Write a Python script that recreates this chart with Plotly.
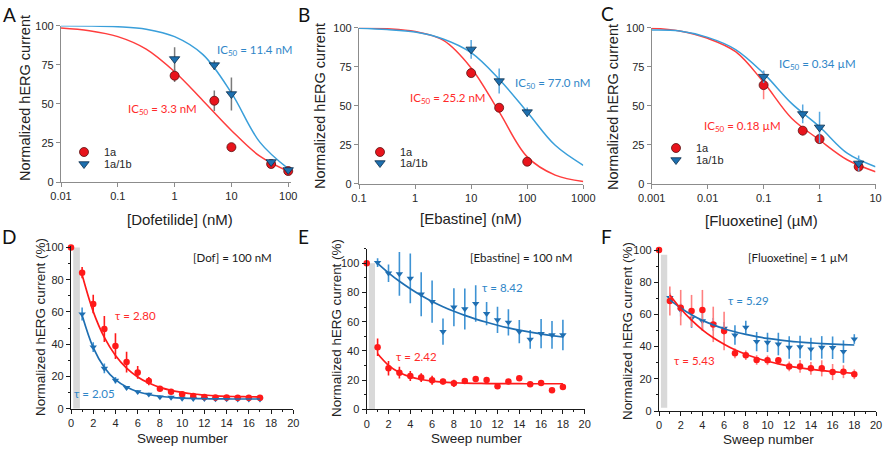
import plotly.graph_objects as go

W, H = 886, 450

# ---------------- data: panel A (Dofetilide) ----------------
dof_conc = [1, 5, 10, 50, 100]
dof_1a = [68.0, 52.0, 22.3, 11.5, 7.0]
dof_1a_err = [4, 6.5, 1, 1.5, 1]
dof_1a1b = [78.7, 74.8, 56.3, 12.8, 7.7]
dof_1a1b_err = [7.5, 3, 10.5, 1.5, 1]
dof_fit_x = [0.01, 0.0316, 0.1, 0.316, 1, 3.16, 10, 31.6, 100]
dof_fit_1a = [98.5, 96.8, 93.0, 85.0, 70.5, 52.0, 33.0, 16.5, 6.8]
dof_fit_1a1b = [99.9, 99.8, 99.3, 97.8, 93.0, 81.5, 57.0, 25.5, 8.5]
dof_ticks = [0.01, 0.1, 1, 10, 100]
dof_ticktext = ["0.01", "0.1", "1", "10", "100"]

# ---------------- data: panel B (Ebastine) ----------------
eba_conc = [10, 31.6, 100]
eba_1a = [70.9, 48.7, 14.1]
eba_1a_err = [2, 2, 2]
eba_1a1b = [86.1, 65.8, 45.9]
eba_1a1b_err = [6, 8, 3]
eba_fit_x = [0.1, 0.316, 1, 3.16, 10, 31.6, 100, 316, 1000]
eba_fit_1a = [99.8, 99.3, 97.5, 92.0, 74.2, 46.0, 17.2, 5.5, 1.4]
eba_fit_1a1b = [99.6, 98.8, 97.2, 92.8, 84.0, 67.0, 46.0, 24.6, 11.8]
eba_ticks = [0.1, 1, 10, 100, 1000]
eba_ticktext = ["0.1", "1", "10", "100", "1000"]

# ---------------- data: panel C (Fluoxetine) ----------------
flu_conc = [0.1, 0.5, 1, 5]
flu_1a = [63.2, 34.0, 28.6, 10.9]
flu_1a_err = [9, 3, 3, 2]
flu_1a1b = [68.6, 44.7, 36.1, 13.0]
flu_1a1b_err = [4, 6, 10, 5]
flu_fit_x = [0.001, 0.00316, 0.01, 0.0316, 0.1, 0.316, 1, 3.16, 10]
flu_fit_1a = [99.6, 97.9, 93.2, 84.6, 65.0, 42.0, 28.0, 15.2, 7.7]
flu_fit_1a1b = [98.5, 97.9, 93.8, 86.0, 70.7, 51.5, 36.5, 19.4, 10.9]
flu_ticks = [0.001, 0.01, 0.1, 1, 10]
flu_ticktext = ["0.001", "0.01", "0.1", "1", "10"]

# ---------------- data: panel D (Dof 100 nM, sweeps) ----------------
d_sweep_1a = list(range(0, 18))
d_1a = [100, 84.3, 64.9, 49.4, 38.8, 28.9, 22.5, 17.1, 12.4, 10.5, 8.9, 7.9, 7.2, 7.0, 7.0, 6.8, 6.8, 6.8]
d_1a_err = [0, 3.5, 5.7, 8, 8, 6.4, 4, 2.6, 1.5, 1, 1, 1, 0.8, 0.8, 0.8, 0.8, 0.8, 0.8]
d_sweep_1a1b = list(range(1, 18))
d_1a1b = [58.7, 38.2, 25.0, 17.6, 13.0, 10.5, 8.9, 7.2, 7.0, 6.4, 6.2, 6.2, 6.0, 6.0, 5.9, 5.8, 5.8]
d_1a1b_err = [4, 3, 3, 2, 1, 1, 1, 1, 1, 1, 1, 1, 1, 1, 1, 1, 1]
d_fit_x = list(range(1, 18))
d_fit_1a = [83, 60.2, 44.2, 33.0, 25.2, 19.7, 15.9, 13.2, 11.4, 10.1, 9.1, 8.5, 8.0, 7.7, 7.5, 7.4, 7.3]
d_fit_1a1b = [58, 37.9, 25.6, 18.0, 13.4, 10.5, 8.8, 7.7, 7.05, 6.6, 6.4, 6.2, 6.1, 6.05, 6.0, 6.0, 6.0]

# ---------------- data: panel E (Ebastine 100 nM, sweeps) ----------------
e_sweep_1a = list(range(0, 19))
e_1a = [100, 42.5, 28.1, 25.1, 22.8, 21.7, 19.9, 19.0, 17.8, 19.4, 20.8, 20.1, 15.8, 19.0, 21.2, 17.1, 18.0, 13.0, 15.3]
e_1a_err = [0, 6, 5, 4, 3.5, 3, 3, 2, 2.5, 1.5, 2, 2, 1.5, 1, 1.5, 1.5, 1, 0, 0]
e_sweep_1a1b = list(range(1, 19))
e_1a1b = [100.5, 93.2, 92.7, 89.7, 78.8, 73.7, 53.2, 69.9, 68.7, 72.4, 65.5, 61.2, 59.6, 53.2, 47.9, 51.8, 50.9, 50.9]
e_1a1b_err = [3, 6, 15, 17, 15, 14.5, 9, 13, 14, 12.5, 8, 9, 9, 8, 6.5, 10, 9.5, 10.5]
e_fit_x = list(range(1, 19))
e_fit_1a = [38, 30.1, 25.2, 22.2, 20.4, 19.3, 18.6, 18.2, 17.9, 17.75, 17.65, 17.6, 17.55, 17.52, 17.51, 17.5, 17.5, 17.5]
e_fit_1a1b = [100, 93.5, 87.7, 82.6, 78.0, 73.9, 70.3, 67.1, 64.3, 61.8, 59.6, 57.6, 55.8, 54.2, 52.8, 51.6, 50.5, 49.5]

# ---------------- data: panel F (Fluoxetine 1 uM, sweeps) ----------------
f_sweep_1a = list(range(0, 19))
f_1a = [100, 68.3, 64.2, 62.1, 62.7, 53.8, 49.7, 35.8, 34.6, 31.7, 31.5, 31.5, 27.7, 27.7, 26.5, 26.5, 24.2, 24.4, 22.8]
f_1a_err = [0, 9, 11, 10, 12.5, 11, 12, 3, 3, 3, 3, 2, 3, 4, 4, 5, 5, 4, 3]
f_sweep_1a1b = list(range(1, 19))
f_1a1b = [70.4, 62.7, 57.6, 55.9, 53.8, 51.3, 47.2, 52.0, 43.1, 42.6, 41.6, 39.5, 39.8, 38.5, 39.5, 39.3, 36.9, 44.7]
f_1a1b_err = [3, 4, 6, 6, 4, 4, 6, 4, 6, 6, 7, 7, 7, 7, 7, 7, 7, 3]
f_fit_x = list(range(1, 19))
f_fit_1a = [72, 63.5, 56.4, 50.4, 45.5, 41.5, 38.0, 35.2, 32.9, 30.9, 29.3, 27.9, 26.8, 25.8, 25.1, 24.4, 23.9, 23.4]
f_fit_1a1b = [69, 64.0, 59.8, 56.3, 53.5, 51.1, 49.2, 47.6, 46.2, 45.1, 44.2, 43.4, 42.8, 42.3, 41.9, 41.5, 41.2, 41.0]

# ---------------- styling ----------------
SANS = "Liberation Sans, Arial, sans-serif"
TICKFONT = dict(family=SANS, size=11, color="#262626")
CAL = "Lato, Open Sans, sans-serif"

RED_CURVE = "#FF3D3D"
BLUE_CURVE = "#3A9FDA"
RED_MK = "#E8141C"
BLUE_MK = "#1D6FAE"
RED_B = "#FF1A1A"
BLUE_B = "#1F6FB2"
BLUE_ERR = "#3E93D4"


def xdom(a, b):
    return [a / W, b / W]


def ydom(top, bottom):
    return [1 - bottom / H, 1 - top / H]


def px(x):
    return x / W


def py(y):
    return 1 - y / H


fig = go.Figure()

top_panels = [
    ("", ("legend", "legend2"), dof_fit_x, dof_fit_1a, dof_fit_1a1b, dof_conc, dof_1a, dof_1a_err,
     dof_1a1b, dof_1a1b_err, ("#7a7a7a", "#7a7a7a")),
    ("2", ("legend3", "legend4"), eba_fit_x, eba_fit_1a, eba_fit_1a1b, eba_conc, eba_1a, eba_1a_err,
     eba_1a1b, eba_1a1b_err, ("#FF7F7F", "#58A8E0")),
    ("3", ("legend5", "legend6"), flu_fit_x, flu_fit_1a, flu_fit_1a1b, flu_conc, flu_1a, flu_1a_err,
     flu_1a1b, flu_1a1b_err, ("#FF7F7F", "#58A8E0")),
]

for (s, lg, fx, fr, fb, cx, ry, re, by, be, ec) in top_panels:
    xa, ya = "x" + s, "y" + s
    fig.add_trace(go.Scatter(x=fx, y=fr, mode="lines", line=dict(color=RED_CURVE, width=1.5, shape="spline"),
                             xaxis=xa, yaxis=ya, showlegend=False, hoverinfo="skip"))
    fig.add_trace(go.Scatter(x=fx, y=fb, mode="lines", line=dict(color=BLUE_CURVE, width=1.5, shape="spline"),
                             xaxis=xa, yaxis=ya, showlegend=False, hoverinfo="skip"))
    fig.add_trace(go.Scatter(x=cx, y=ry, mode="markers", name="1a", legend=lg[0],
                             marker=dict(symbol="circle", size=9, color=RED_MK, line=dict(color="#5a1010", width=0.8)),
                             error_y=dict(type="data", array=re, color=ec[0], thickness=1.5, width=0),
                             xaxis=xa, yaxis=ya, cliponaxis=False))
    fig.add_trace(go.Scatter(x=cx, y=by, mode="markers", name="1a/1b", legend=lg[1],
                             marker=dict(symbol="triangle-down", size=9, color=BLUE_MK, line=dict(color="#0c2f4d", width=0.8)),
                             error_y=dict(type="data", array=be, color=ec[1], thickness=1.5, width=0),
                             xaxis=xa, yaxis=ya, cliponaxis=False))

bottom_panels = [
    ("4", d_fit_x, d_fit_1a, d_fit_1a1b, d_sweep_1a, d_1a, d_1a_err, d_sweep_1a1b, d_1a1b, d_1a1b_err, RED_B),
    ("5", e_fit_x, e_fit_1a, e_fit_1a1b, e_sweep_1a, e_1a, e_1a_err, e_sweep_1a1b, e_1a1b, e_1a1b_err, RED_B),
    ("6", f_fit_x, f_fit_1a, f_fit_1a1b, f_sweep_1a, f_1a, f_1a_err, f_sweep_1a1b, f_1a1b, f_1a1b_err, "#FF8080"),
]

for (s, fx, fr, fb, rx, ry, re, bx, by, be, rerr) in bottom_panels:
    xa, ya = "x" + s, "y" + s
    fig.add_trace(go.Scatter(x=bx, y=by, mode="markers",
                             marker=dict(symbol="triangle-down", size=6.5, color=BLUE_B),
                             error_y=dict(type="data", array=be, color=BLUE_ERR, thickness=1.6, width=0),
                             xaxis=xa, yaxis=ya, showlegend=False, cliponaxis=False))
    fig.add_trace(go.Scatter(x=rx, y=ry, mode="markers",
                             marker=dict(symbol="circle", size=6.5, color=RED_B),
                             error_y=dict(type="data", array=re, color=rerr, thickness=1.6, width=0),
                             xaxis=xa, yaxis=ya, showlegend=False, cliponaxis=False))
    fig.add_trace(go.Scatter(x=fx, y=fb, mode="lines", line=dict(color=BLUE_B, width=1.7, shape="spline"),
                             xaxis=xa, yaxis=ya, showlegend=False, hoverinfo="skip"))
    fig.add_trace(go.Scatter(x=fx, y=fr, mode="lines", line=dict(color=RED_B, width=1.7, shape="spline"),
                             xaxis=xa, yaxis=ya, showlegend=False, hoverinfo="skip"))


def top_x(rng, dom, anchor, tv, tt):
    return dict(type="log", range=rng, domain=dom, anchor=anchor, showline=True, linecolor="#8c8c8c",
                linewidth=1.2, ticks="outside", ticklen=4, tickcolor="#8c8c8c", tickwidth=1.2,
                tickvals=tv, ticktext=tt, showgrid=False, zeroline=False, tickfont=TICKFONT,
                automargin=False)


def top_y(dom, anchor):
    return dict(range=[0, 100], domain=dom, anchor=anchor, showline=True, linecolor="#8c8c8c",
                linewidth=1.2, ticks="outside", ticklen=4, tickcolor="#8c8c8c", tickwidth=1.2,
                tickvals=[0, 25, 50, 75, 100], showgrid=False, zeroline=False, tickfont=TICKFONT,
                automargin=False)


def bot_x(dom, anchor):
    return dict(range=[0, 20], domain=dom, anchor=anchor, showline=True, linecolor="#1a1a1a",
                linewidth=1.3, ticks="outside", ticklen=4, tickcolor="#1a1a1a", tick0=0, dtick=2,
                minor=dict(ticks="outside", ticklen=2, dtick=1, tickcolor="#1a1a1a"),
                showgrid=False, zeroline=False, tickfont=TICKFONT, automargin=False)


def bot_y(rng, dom, anchor):
    return dict(range=rng, domain=dom, anchor=anchor, showline=True, linecolor="#1a1a1a",
                linewidth=1.3, ticks="outside", ticklen=4, tickcolor="#1a1a1a", tick0=0, dtick=20,
                minor=dict(ticks="outside", ticklen=2, dtick=10, tickcolor="#1a1a1a"),
                showgrid=False, zeroline=False, tickfont=TICKFONT, automargin=False)


layout = dict(
    width=W, height=H, margin=dict(l=0, r=0, t=0, b=0, pad=0), autosize=False,
    paper_bgcolor="white", plot_bgcolor="white",
    xaxis=top_x([-2, 2.04], xdom(61, 290.5), "y", dof_ticks, dof_ticktext),
    yaxis=top_y(ydom(25.7, 182), "x"),
    xaxis2=top_x([-1, 3], xdom(359, 583.3), "y2", eba_ticks, eba_ticktext),
    yaxis2=top_y(ydom(27.7, 183.7), "x2"),
    xaxis3=top_x([-3, 1], xdom(651.7, 875.5), "y3", flu_ticks, flu_ticktext),
    yaxis3=top_y(ydom(27.7, 183.7), "x3"),
    xaxis4=bot_x(xdom(71, 293.3), "y4"),
    yaxis4=bot_y([0, 101], ydom(408.7 - 101 * 1.613, 408.7), "x4"),
    xaxis5=bot_x(xdom(366.7, 584.7), "y5"),
    yaxis5=bot_y([0, 110], ydom(409.3 - 110 * 1.46, 409.3), "x5"),
    xaxis6=bot_x(xdom(659, 876), "y6"),
    yaxis6=bot_y([0, 101], ydom(411 - 101 * 1.61, 411), "x6"),
)

leg_common = dict(bgcolor="rgba(0,0,0,0)", font=dict(family=SANS, size=11, color="#262626"),
                  xanchor="left", yanchor="top", tracegroupgap=0, itemwidth=30)
# (legend id, marker centre x, item centre y) in reference pixels
legend_spots = [("legend", 85, 152), ("legend2", 85, 164),
                ("legend3", 381, 152), ("legend4", 381, 163),
                ("legend5", 677, 148), ("legend6", 677, 160)]
for lid, lx, ly in legend_spots:
    layout[lid] = dict(x=px(lx - 21), y=py(ly - 14.5), **leg_common)

fig.update_layout(**layout)

# grey shading marking the drug application gap
shade = [("x4", "y4", 0.2, 0.8, 0, 100), ("x5", "y5", 0.2, 0.76, 0, 100), ("x6", "y6", 0.18, 0.76, 2, 97)]
for xr, yr, a, b, c, d in shade:
    fig.add_shape(type="rect", xref=xr, yref=yr, x0=a, x1=b, y0=c, y1=d,
                  fillcolor="#d9d9d9", line=dict(width=0), layer="below")

ann = []


def text(x, y, t, size, color, family=CAL, angle=0):
    ann.append(dict(x=px(x), y=py(y), xref="paper", yref="paper", text=t, showarrow=False,
                    xanchor="center", yanchor="middle", textangle=angle,
                    font=dict(family=family, size=size, color=color)))


# panel letters
for (lx, ly, lt) in [(9, 15, "A"), (304, 15, "B"), (607, 14, "C"), (9, 236, "D"), (303, 236, "E"), (606, 236, "F")]:
    text(lx, ly, lt, 19, "#111111")

# axis titles
text(180, 219, "[Dofetilide] (nM)", 15, "#222222", SANS)
text(471, 218, "[Ebastine] (nM)", 15, "#222222", SANS)
text(761, 220, "[Fluoxetine] (\u00b5M)", 15, "#222222", SANS)
text(25, 98, "Normalized hERG current", 14.5, "#222222", SANS, -90)
text(320, 106, "Normalized hERG current", 14.5, "#222222", SANS, -90)
text(613, 107, "Normalized hERG current", 14.5, "#222222", SANS, -90)
text(182, 438, "Sweep number", 13.5, "#222222", SANS)
text(476, 438, "Sweep number", 13.5, "#222222", SANS)
text(768, 439, "Sweep number", 13.5, "#222222", SANS)
text(40, 327, "Normalized hERG current (%)", 13.4, "#222222", SANS, -90)
text(336, 328, "Normalized hERG current (%)", 13.4, "#222222", SANS, -90)
text(627, 331, "Normalized hERG current (%)", 13.4, "#222222", SANS, -90)

# IC50 labels
text(254, 50, "IC<sub>50</sub> = 11.4 nM", 11.5, "#2F86C8")
text(162, 109, "IC<sub>50</sub> = 3.3 nM", 11.5, "#FF2A2A")
text(552, 84, "IC<sub>50</sub> = 77.0 nM", 11.5, "#2F86C8")
text(447, 99, "IC<sub>50</sub> = 25.2 nM", 11.5, "#FF2A2A")
text(817, 64, "IC<sub>50</sub> = 0.34 \u00b5M", 11.5, "#2F86C8")
text(742, 126, "IC<sub>50</sub> = 0.18 \u00b5M", 11.5, "#FF2A2A")

# condition and tau labels
text(232, 257, "[Dof] = 100 nM", 11.5, "#1a1a1a")
text(135, 315, "\u03c4 = 2.80", 11.5, "#FF2A2A")
text(94, 393, "\u03c4 = 2.05", 11.5, "#2F86C8")
text(521, 257, "[Ebastine] = 100 nM", 11.5, "#1a1a1a")
text(502, 287, "\u03c4 = 8.42", 11.5, "#2F86C8")
text(416, 356, "\u03c4 = 2.42", 11.5, "#FF2A2A")
text(798, 257, "[Fluoxetine] = 1 \u00b5M", 11.5, "#1a1a1a")
text(748, 300, "\u03c4 = 5.29", 11.5, "#2F86C8")
text(694, 360, "\u03c4 = 5.43", 11.5, "#FF2A2A")

fig.update_layout(annotations=ann)

# the page body has an 8px default margin; remove it so the 886x450 figure fills the window
fig.write_html("out.html", config={"displayModeBar": False},
               post_script="document.body.style.margin='0';document.body.style.overflow='hidden';")
